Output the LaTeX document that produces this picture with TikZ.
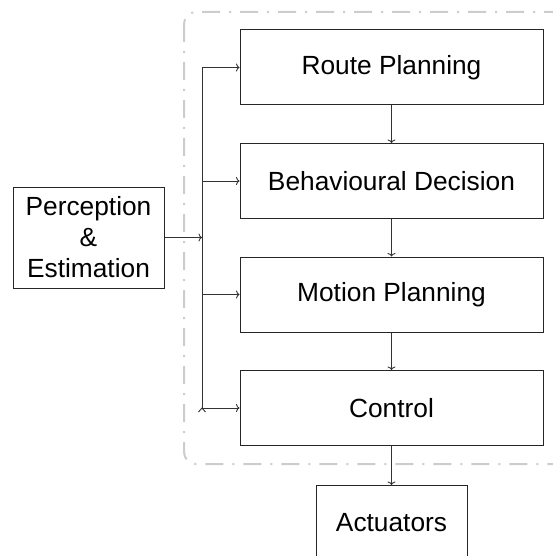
\documentclass[tikz,border=0pt]{standalone}
\usepackage{fontspec}
\setmainfont{Liberation Sans}
\usetikzlibrary{arrows.meta}
\begin{document}
\begin{tikzpicture}[x=1pt,y=-1pt,
  blk/.style={draw=black!85,line width=1pt,inner sep=0pt,minimum width=303pt,minimum height=75pt,
    font=\fontsize{26.3}{31}\selectfont,align=center},
  conn/.style={draw=black!80,line width=0.9pt,-{To[length=3.5pt,width=8pt]}},
  wire/.style={draw=black!80,line width=0.9pt},
  frame/.style={draw=black!20,line width=2pt,rounded corners=12pt,dash pattern=on 18pt off 9pt on 2pt off 9pt}]
\useasboundingbox (0,0) rectangle (553,556);
\draw[frame] (184,12) rectangle (600,464);
\node[blk] (route) at (391.5,67.5) {Route Planning};
\node[blk] (behav) at (391.5,181) {Behavioural Decision};
\node[blk] (motion) at (391.5,294.5) {Motion Planning};
\node[blk] (ctrl) at (391.5,408) {Control};
\node[blk,minimum width=151pt] (act) at (391.5,523) {Actuators};
\node[blk,minimum width=151pt,minimum height=101pt] (perc) at (88.5,237.5) {Perception\\\&\\Estimation};
\coordinate (jtop) at (202,67.5);
\coordinate (jb) at (202,181);
\coordinate (jp) at (202,237.5);
\coordinate (jm) at (202,294.5);
\coordinate (jbot) at (202,408);
\draw[wire] (jtop) -- (jbot);
\draw[wire] ([xshift=-3.5pt,yshift=-4pt]jbot) -- (jbot) -- ([xshift=3.5pt,yshift=-4pt]jbot);
\draw[conn] (perc.east |- jp) -- (jp);
\draw[conn] (jtop) -- (route.west |- jtop);
\draw[conn] (jb) -- (behav.west |- jb);
\draw[conn] (jm) -- (motion.west |- jm);
\draw[conn] (jbot) -- (ctrl.west |- jbot);
\draw[conn] (route) -- (behav);
\draw[conn] (behav) -- (motion);
\draw[conn] (motion) -- (ctrl);
\draw[conn] (ctrl) -- (act);
\end{tikzpicture}
\end{document}
